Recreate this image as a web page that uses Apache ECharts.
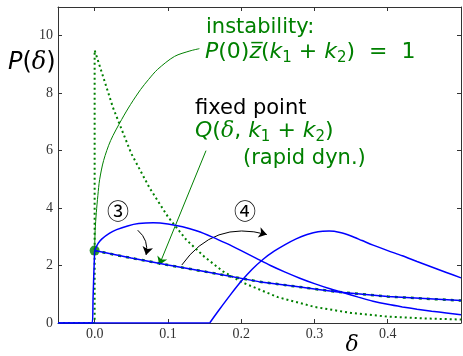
<!DOCTYPE html>
<html>
<head>
<meta charset="utf-8">
<script src="https://cdn.jsdelivr.net/npm/echarts@6/dist/echarts.min.js"></script>
<style>html,body{margin:0;padding:0;background:#fff}#chart{width:463px;height:356px}</style>
</head>
<body>
<div id="chart"></div>
<script>
// tick positions
var xTicks = [0, 0.1, 0.2, 0.3, 0.4];
var yTicks = [0, 2, 4, 6, 8, 10];

// blue: steep rise at delta = 0 (shared start of curve 3 and the fixed point)
var riseData = [[-0.05, 0], [-0.0035, 0], [-0.002, 1.0], [-0.001, 1.8], [0, 2.52]];
// blue: curve (3)
var curve3 = [[0, 2.52], [0.005, 2.78], [0.01, 2.93], [0.02, 3.12], [0.03, 3.25], [0.045, 3.38],
  [0.06, 3.46], [0.08, 3.49], [0.1, 3.45], [0.12, 3.35], [0.14, 3.2], [0.16, 3.0], [0.18, 2.77],
  [0.2, 2.52], [0.22, 2.26], [0.24, 2.0], [0.26, 1.77], [0.28, 1.56], [0.3, 1.37], [0.32, 1.2],
  [0.34, 1.05], [0.36, 0.9], [0.38, 0.76], [0.4, 0.65], [0.42, 0.56], [0.44, 0.48], [0.46, 0.41],
  [0.48, 0.35], [0.5, 0.29]];
// blue: curve (4)
var curve4Zero = [[-0.05, 0], [0.157, 0]];
var curve4 = [[0.157, 0], [0.17, 0.46], [0.185, 0.97], [0.2, 1.45], [0.215, 1.87], [0.23, 2.22],
  [0.245, 2.5], [0.26, 2.73], [0.275, 2.93], [0.29, 3.08], [0.305, 3.18], [0.32, 3.2],
  [0.335, 3.15], [0.35, 3.03], [0.365, 2.87], [0.38, 2.71], [0.4, 2.52], [0.42, 2.34],
  [0.44, 2.14], [0.46, 1.95], [0.48, 1.76], [0.5, 1.57]];
// fixed point Q(delta, k1 + k2)
var fixedLine = [[0, 2.52], [0.05, 2.26], [0.1, 2.02], [0.15, 1.79], [0.224, 1.44], [0.278, 1.26],
  [0.305, 1.17], [0.332, 1.08], [0.4, 0.92], [0.45, 0.85], [0.5, 0.78]];
// green dotted: decaying distribution
var decay = [[-0.05, 0], [0, 0], [0, 9.5], [0.025, 7.5], [0.05, 5.9], [0.075, 4.7], [0.1, 3.7],
  [0.125, 2.9], [0.15, 2.3], [0.175, 1.8], [0.2, 1.43], [0.25, 0.9], [0.3, 0.56], [0.35, 0.35],
  [0.4, 0.22], [0.45, 0.16], [0.5, 0.12]];
// green connector from "instability" label to the point
var instCurve = [[0, 2.52], [0.0007, 3.22], [0.0023, 3.84], [0.0044, 4.44], [0.0068, 4.99],
  [0.0123, 5.66], [0.0218, 6.35], [0.0368, 7.08], [0.0491, 7.61], [0.0628, 8.13], [0.0737, 8.48],
  [0.086, 8.83], [0.109, 9.28], [0.13, 9.47], [0.143, 9.55]];
var dotPoint = [[0, 2.52]];
// annotation arrows
var arrowQ = [[0.152, 6.0], [0.0882, 2.02]];
var arrow3 = [[0.0588, 3.23], [0.0702, 2.37]];
var arrow4 = [[0.119, 2.02], [0.235, 3.08]];

var GREEN = '#008000';
var BLUE = '#0000ff';
var chart = echarts.init(document.getElementById('chart'));

function axisX(pos, showLabel) {
  return {
    type: 'value', position: pos, min: -0.05, max: 0.5,
    axisLine: { onZero: false, lineStyle: { color: '#333', width: 1 } },
    splitLine: { show: false },
    axisTick: { inside: true, length: 4, customValues: xTicks, lineStyle: { color: '#333' } },
    axisLabel: {
      show: showLabel, customValues: xTicks, margin: 4,
      fontFamily: 'Liberation Serif', fontSize: 14, color: '#333',
      formatter: function (v) { return v.toFixed(1); }
    }
  };
}
function axisY(pos, showLabel) {
  return {
    type: 'value', position: pos, min: 0, max: 11,
    axisLine: { show: true, onZero: false, lineStyle: { color: '#333', width: 1 } },
    splitLine: { show: false },
    axisTick: { show: true, inside: true, length: 4, customValues: yTicks, lineStyle: { color: '#333' } },
    axisLabel: {
      show: showLabel, customValues: yTicks, margin: 5,
      fontFamily: 'Liberation Serif', fontSize: 14, color: '#333'
    }
  };
}

function lineSeries(data, color, width, extra) {
  var s = {
    type: 'line', data: data, showSymbol: false, symbol: 'none', silent: true,
    lineStyle: { color: color, width: width }
  };
  for (var k in extra) s[k] = extra[k];
  return s;
}

function arrowItem(a, color, curve) {
  return { coords: a, lineStyle: { color: color, width: 1, curveness: curve, type: 'solid', opacity: 1 } };
}

var mathRich = {
  i: { fontFamily: 'DejaVu Sans', fontStyle: 'italic', fontSize: 22, lineHeight: 28, fill: GREEN },
  n: { fontFamily: 'DejaVu Sans', fontSize: 22, lineHeight: 28, fill: GREEN },
  d: { fontFamily: 'DejaVu Serif', fontStyle: 'italic', fontSize: 22, lineHeight: 28, fill: GREEN },
  s: { fontFamily: 'DejaVu Sans', fontSize: 15, lineHeight: 18, verticalAlign: 'bottom', fill: GREEN }
};

var option = {
  animation: false,
  grid: { left: 58, right: 2, top: 7, bottom: 33 },
  xAxis: [axisX('bottom', true), axisX('top', false)],
  yAxis: [axisY('left', true), axisY('right', false)],
  series: [
    lineSeries(decay, GREEN, 2, { lineStyle: { color: GREEN, width: 2, type: [2, 3] } }),
    lineSeries(fixedLine, GREEN, 2.5, { lineStyle: { color: GREEN, width: 2.5, type: [3, 5] } }),
    lineSeries(instCurve, GREEN, 1, { smooth: 0.3 }),
    lineSeries(curve4Zero, BLUE, 1.5),
    lineSeries(riseData, BLUE, 1.5, { smooth: true }),
    lineSeries(curve3, BLUE, 1.5, { smooth: 0.3 }),
    lineSeries(curve4, BLUE, 1.5, { smooth: 0.3 }),
    lineSeries(fixedLine, BLUE, 1.5),
    {
      type: 'lines', coordinateSystem: 'cartesian2d', silent: true,
      symbol: ['none', 'arrow'], symbolSize: 8,
      data: [
        arrowItem(arrowQ, GREEN, 0),
        arrowItem(arrow3, '#000', 0.3),
        arrowItem(arrow4, '#000', 0.35)
      ]
    },
    {
      type: 'scatter', data: dotPoint, symbolSize: 10, silent: true,
      itemStyle: { color: GREEN }
    }
  ],
  graphic: [
    { type: 'text', left: 8, top: 51, style: {
        text: '{i|P}{r|(}{d|δ}{r|)}', rich: {
          i: { fontFamily: 'DejaVu Sans', fontStyle: 'italic', fontSize: 24, fill: '#000' },
          r: { fontFamily: 'DejaVu Sans', fontSize: 24, fill: '#000' },
          d: { fontFamily: 'DejaVu Serif', fontStyle: 'italic', fontSize: 24, fill: '#000' }
        } } },
    { type: 'text', x: 352, y: 345, style: {
        text: 'δ', align: 'center', verticalAlign: 'middle',
        fontFamily: 'DejaVu Serif', fontStyle: 'italic', fontSize: 22, fill: '#000' } },
    { type: 'text', left: 206, top: 17, style: {
        text: 'instability:', fontFamily: 'DejaVu Sans', fontSize: 21, fill: GREEN } },
    { type: 'text', left: 205, top: 41, style: {
        text: '{i|P}{n|(0)}{i|z\u0305}{n|(}{i|k}{s|1}{n| + }{i|k}{s|2}{n|)  =  1}', rich: mathRich } },
    { type: 'text', left: 195, top: 98, style: {
        text: 'fixed point', fontFamily: 'DejaVu Sans', fontSize: 21, fill: '#000' } },
    { type: 'text', left: 195, top: 120, style: {
        text: '{i|Q}{n|(}{d|δ}{n|, }{i|k}{s|1}{n| + }{i|k}{s|2}{n|)}', rich: mathRich } },
    { type: 'text', left: 243, top: 148, style: {
        text: '(rapid dyn.)', fontFamily: 'DejaVu Sans', fontSize: 21, fill: GREEN } },
    { type: 'text', x: 118, y: 211, style: {
        text: '③', align: 'center', verticalAlign: 'middle',
        fontFamily: 'Noto Sans CJK JP', fontSize: 22, fill: '#000' } },
    { type: 'text', x: 245, y: 211, style: {
        text: '④', align: 'center', verticalAlign: 'middle',
        fontFamily: 'Noto Sans CJK JP', fontSize: 22, fill: '#000' } }
  ]
};
chart.setOption(option);
</script>
</body>
</html>
